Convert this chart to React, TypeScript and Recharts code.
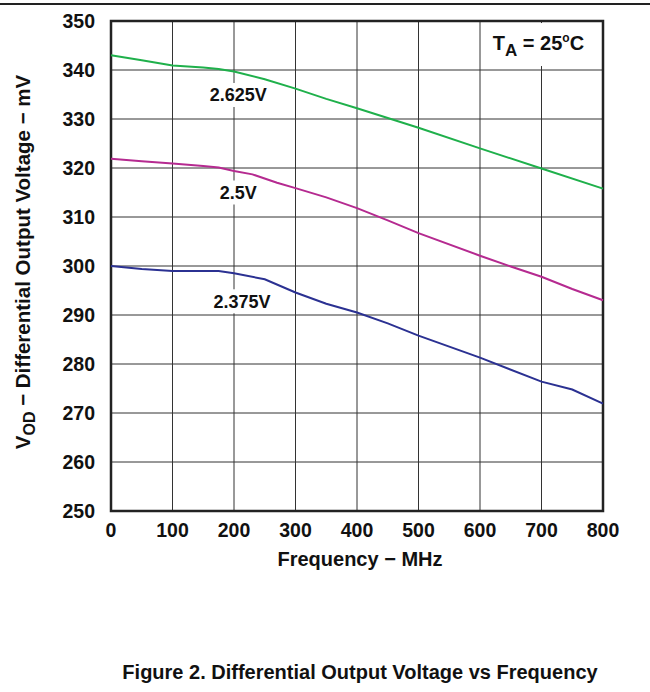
import React from 'react';
import { LineChart, Line, XAxis, YAxis, CartesianGrid, ReferenceArea, ReferenceDot, Label } from 'recharts';

const FONT = '"Liberation Sans", Arial, Helvetica, sans-serif';

const freqTicks = [0, 100, 200, 300, 400, 500, 600, 700, 800];
const voltTicks = [250, 260, 270, 280, 290, 300, 310, 320, 330, 340, 350];

const freqHigh = [0, 50, 100, 150, 175, 200, 250, 300, 350, 400, 500, 600, 700, 800];
const voltHigh = [343, 342, 340.9, 340.5, 340.2, 339.7, 338.1, 336.2, 334.1, 332.2, 328.2, 324, 319.9, 315.8];

const freqMid = [0, 50, 100, 150, 175, 200, 230, 270, 300, 350, 400, 450, 500, 600, 650, 700, 750, 800];
const voltMid = [321.9, 321.4, 320.9, 320.4, 320.1, 319.4, 318.7, 317, 315.9, 314, 311.8, 309.3, 306.7, 302.1, 299.9, 297.8, 295.3, 293.0];

const freqLow = [0, 50, 100, 175, 200, 250, 300, 350, 400, 450, 500, 600, 700, 750, 800];
const voltLow = [300, 299.4, 299, 299, 298.5, 297.3, 294.6, 292.3, 290.5, 288.3, 285.8, 281.3, 276.4, 274.8, 271.9];

const toRows = (f: number[], v: number[]) => f.map((x, i) => ({ f: x, v: v[i] }));
const highRows = toRows(freqHigh, voltHigh);
const midRows = toRows(freqMid, voltMid);
const lowRows = toRows(freqLow, voltLow);

const tagContent = (text: string, w: number) => (props: any) => {
  const vb = props.viewBox || {};
  const cx = (vb.x || 0) + (vb.width || 0) / 2;
  const cy = (vb.y || 0) + (vb.height || 0) / 2;
  return (
    <g>
      <rect x={cx - w / 2} y={cy - 12} width={w} height={24} fill="#fff" />
      <text x={cx} y={cy + 6.5} textAnchor="middle" fontFamily={FONT} fontWeight="bold" fontSize={18} fill="#111">
        {text}
      </text>
    </g>
  );
};

const taContent = (props: any) => {
  const vb = props.viewBox || {};
  const cx = (vb.x || 0) + (vb.width || 0) / 2;
  const cy = (vb.y || 0) + (vb.height || 0) / 2;
  return (
    <g>
      <rect x={cx - 56} y={cy - 21} width={112} height={43} fill="#fff" />
      <text x={cx} y={cy + 6} textAnchor="middle" fontFamily={FONT} fontWeight="bold" fontSize={20} fill="#111">
        T<tspan fontSize={17} dy={6}>A</tspan>
        <tspan dy={-6}> = 25</tspan>
        <tspan fontSize={12} dy={-8}>o</tspan>
        <tspan dy={8}>C</tspan>
      </text>
    </g>
  );
};

const xTitle = (props: any) => {
  const vb = props.viewBox || {};
  return (
    <text x={vb.x + vb.width / 2 + 3} y={vb.y + 55} textAnchor="middle" fontFamily={FONT} fontWeight="bold" fontSize={20} fill="#111">
      Frequency − MHz
    </text>
  );
};

const yTitle = (props: any) => {
  const vb = props.viewBox || {};
  const cx = 30;
  const cy = vb.y + vb.height / 2 - 4;
  return (
    <text x={cx} y={cy} transform={`rotate(-90 ${cx} ${cy})`} textAnchor="middle" fontFamily={FONT} fontWeight="bold" fontSize={20.5} fill="#111">
      V<tspan fontSize={16} dy={5}>OD</tspan>
      <tspan dy={-5}> − Differential Output Voltage − mV</tspan>
    </text>
  );
};

const tickStyle = { fill: '#111', fontSize: 19.5, fontWeight: 'bold', fontFamily: FONT };

export default function App() {
  return (
    <div style={{ position: 'absolute', left: 0, top: 0, width: 650, height: 692, background: '#fff', fontFamily: FONT }}>
      <div style={{ position: 'absolute', left: 0, top: 3, width: 650, height: 2, background: '#222' }} />
      <LineChart width={650} height={692} margin={{ top: 21, right: 47, bottom: 126, left: 11 }}>
        <CartesianGrid stroke="#333" strokeWidth={1} />
        <XAxis
          dataKey="f"
          type="number"
          domain={[0, 800]}
          ticks={freqTicks}
          axisLine={false}
          tickLine={false}
          tickSize={6}
          tickMargin={6}
          height={55}
          tick={tickStyle}
          allowDuplicatedCategory={false}
        >
          <Label content={xTitle} />
        </XAxis>
        <YAxis
          type="number"
          domain={[250, 350]}
          ticks={voltTicks}
          axisLine={false}
          tickLine={false}
          tickSize={6}
          tickMargin={10}
          width={100}
          tick={tickStyle}
        >
          <Label content={yTitle} />
        </YAxis>
        <Line data={highRows} dataKey="v" stroke="#1fb04b" strokeWidth={2} dot={false} isAnimationActive={false} />
        <Line data={midRows} dataKey="v" stroke="#b52a90" strokeWidth={2} dot={false} isAnimationActive={false} />
        <Line data={lowRows} dataKey="v" stroke="#2b3192" strokeWidth={2} dot={false} isAnimationActive={false} />
        <ReferenceArea x1={0} x2={800} y1={250} y2={350} fill="none" stroke="#222" strokeWidth={2.5} ifOverflow="visible" />
        <ReferenceDot x={207} y={334.9} r={0} fill="none" stroke="none" label={tagContent('2.625V', 66)} />
        <ReferenceDot x={207} y={315.0} r={0} fill="none" stroke="none" label={tagContent('2.5V', 46)} />
        <ReferenceDot x={213} y={292.8} r={0} fill="none" stroke="none" label={tagContent('2.375V', 66)} />
        <ReferenceDot x={695} y={345.3} r={0} fill="none" stroke="none" label={taContent} />
      </LineChart>
      <div
        style={{
          position: 'absolute',
          left: 0,
          width: 720,
          top: 661,
          textAlign: 'center',
          fontFamily: FONT,
          fontWeight: 'bold',
          fontSize: 20,
          color: '#111',
        }}
      >
        Figure 2. Differential Output Voltage vs Frequency
      </div>
    </div>
  );
}
